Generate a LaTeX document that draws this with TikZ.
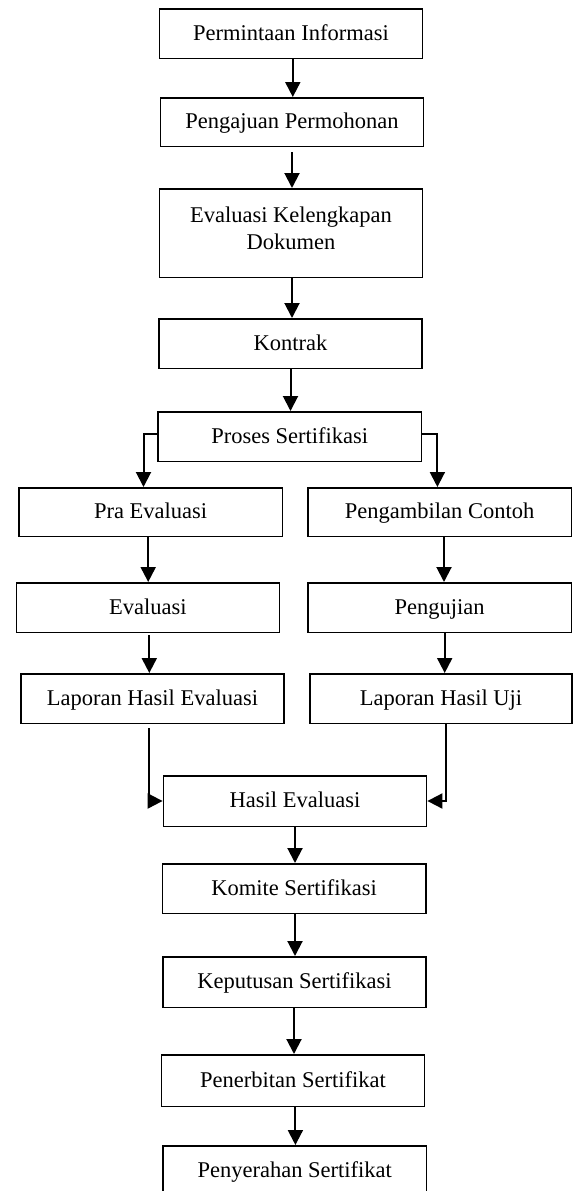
\documentclass[tikz,border=0pt]{standalone}
\usepackage{fontspec}
\setmainfont{Liberation Serif}
\usetikzlibrary{arrows.meta}
\tikzset{
  box/.style={draw, line width=1.5pt, minimum width=263.3pt, minimum height=49.5pt,
    inner sep=0pt, font=\fontsize{22.5}{27.5}\selectfont, text height=14.8pt, text depth=1pt},
  tallbox/.style={box, minimum height=88.5pt, align=center, text height=, text depth=10pt},
  arr/.style={line width=2pt, -{Triangle[length=15pt,width=15pt]}}
}
\begin{document}
\begin{tikzpicture}[x=1pt,y=-1pt]
\path[use as bounding box, fill=white] (0,0) rectangle (574,1191);
\node[box] (n1) at (291,33.5) {Permintaan Informasi};
\node[box, minimum height=48.5pt] (n2) at (292,122) {Pengajuan Permohonan};
\node[tallbox] (n3) at (291,233) {Evaluasi Kelengkapan\\Dokumen};
\node[box] (n4) at (290.5,343.5) {Kontrak};
\node[box] (n5) at (289.7,436.5) {Proses Sertifikasi};
\node[box, minimum height=48.5pt] (n6) at (150.6,512) {Pra Evaluasi};
\node[box, minimum height=48.5pt] (n7) at (439.6,512) {Pengambilan Contoh};
\node[box] (n8) at (147.9,607.5) {Evaluasi};
\node[box] (n9) at (439.6,607.5) {Pengujian};
\node[box] (n10) at (152.4,698.5) {Laporan Hasil Evaluasi};
\node[box, minimum width=262pt] (n11) at (441,698.5) {Laporan Hasil Uji};
\node[box, minimum height=50.5pt] (n12) at (295,801) {Hasil Evaluasi};
\node[box] (n13) at (294.1,888.5) {Komite Sertifikasi};
\node[box, minimum height=50.5pt] (n14) at (294.5,982) {Keputusan Sertifikasi};
\node[box, minimum height=51.5pt] (n15) at (293,1080.5) {Penerbitan Sertifikat};
\node[box] (n16) at (294.8,1170.5) {Penyerahan Sertifikat};

\draw[arr] ([xshift=1.8pt]n1.south) -- ([xshift=1.8pt]n1.south |- n2.north);
\draw[arr, shorten <=5pt] (n2.south) -- (n2.south |- n3.north);
\draw[arr] ([xshift=1pt]n3.south) -- ([xshift=1pt]n3.south |- n4.north);
\draw[arr] (n4.south) -- (n4.south |- n5.north);
\draw[arr] ([yshift=2.5pt]n5.west) -| ([xshift=-7.1pt]n6.north);
\draw[arr] ([yshift=2.5pt]n5.east) -| ([xshift=-2.2pt]n7.north);
\draw[arr] ([xshift=-2.4pt]n6.south) -- ([xshift=-2.4pt]n6.south |- n8.north);
\draw[arr] ([xshift=4.4pt]n7.south) -- ([xshift=4.4pt]n7.south |- n9.north);
\draw[arr, shorten <=2pt] ([xshift=1.4pt]n8.south) -- ([xshift=1.4pt]n8.south |- n10.north);
\draw[arr] ([xshift=5.1pt]n9.south) -- ([xshift=5.1pt]n9.south |- n11.north);
\draw[arr, shorten <=4pt] ([xshift=-3.8pt]n10.south) |- (n12.west);
\draw[arr] ([xshift=4.8pt]n11.south) |- (n12.east);
\draw[arr] (n12.south) -- (n12.south |- n13.north);
\draw[arr] ([xshift=0.9pt]n13.south) -- ([xshift=0.9pt]n13.south |- n14.north);
\draw[arr] ([xshift=-0.5pt]n14.south) -- ([xshift=-0.5pt]n14.south |- n15.north);
\draw[arr] ([xshift=2.4pt]n15.south) -- ([xshift=2.4pt]n15.south |- n16.north);
\end{tikzpicture}
\end{document}
